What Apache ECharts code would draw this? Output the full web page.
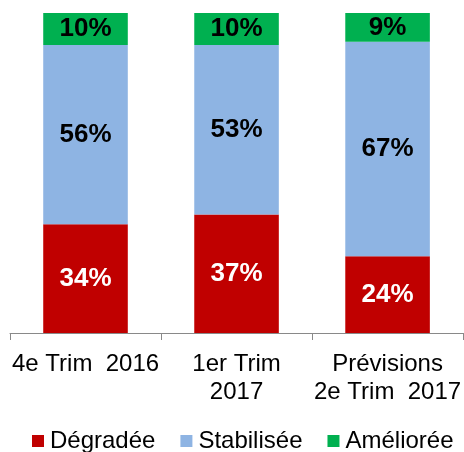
<!DOCTYPE html>
<html>
<head>
<meta charset="utf-8">
<script src="https://cdn.jsdelivr.net/npm/echarts@6/dist/echarts.min.js"></script>
<style>
html, body { margin: 0; padding: 0; background: #fff; }
#chart { width: 464px; height: 452px; }
</style>
</head>
<body>
<div id="chart"></div>
<script>
const categories = ['4e Trim  2016', '1er Trim\n2017', 'Prévisions\n2e Trim  2017'];
const degradee = [34, 37, 24];
const stabilisee = [56, 53, 67];
const amelioree = [10, 10, 9];

const font = 'Liberation Sans, Arial, sans-serif';

function barSeries(name, data, color, labelColor) {
    return {
        name: name,
        type: 'bar',
        stack: 'total',
        data: data,
        barCategoryGap: '44%',
        itemStyle: { color: color },
        label: {
            show: true,
            position: 'inside',
            formatter: '{c}%',
            color: labelColor,
            fontFamily: font,
            fontWeight: 'bold',
            fontSize: 26
        }
    };
}

let chart = echarts.init(document.getElementById('chart'));
chart.setOption({
    animation: false,
    grid: { left: 10, right: 0, top: 13, bottom: 119, containLabel: false },
    legend: {
        top: 429,
        left: 32,
        padding: 0,
        icon: 'rect',
        itemWidth: 12,
        itemHeight: 12,
        itemGap: 25,
        textStyle: { fontFamily: font, fontSize: 24, color: '#000', padding: [0, 0, 0, 1] },
        data: ['Dégradée', 'Stabilisée', 'Améliorée']
    },
    xAxis: {
        type: 'category',
        data: categories,
        axisLine: { lineStyle: { color: '#898989', width: 1 } },
        axisTick: { show: true, length: 7, lineStyle: { color: '#898989' } },
        axisLabel: {
            interval: 0,
            margin: 17,
            color: '#000',
            fontFamily: font,
            fontSize: 24,
            lineHeight: 28
        }
    },
    yAxis: {
        type: 'value',
        min: 0,
        max: 100,
        show: false,
        splitLine: { show: false }
    },
    series: [
        barSeries('Dégradée', degradee, '#C00000', '#fff'),
        barSeries('Stabilisée', stabilisee, '#8EB4E3', '#000'),
        barSeries('Améliorée', amelioree, '#00B050', '#000')
    ]
});
</script>
</body>
</html>
